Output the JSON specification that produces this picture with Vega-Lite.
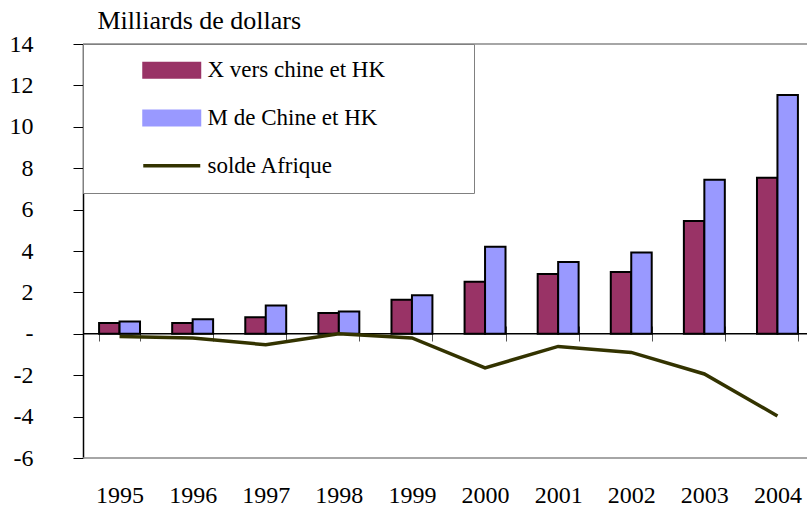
{
  "$schema": "https://vega.github.io/schema/vega-lite/v6.json",
  "width": 724,
  "height": 414,
  "autosize": "none",
  "padding": {"left": 83, "top": 44, "right": 0, "bottom": 48},
  "config": {
    "view": {"stroke": null},
    "font": "Liberation Serif"
  },
  "encoding": {
    "y": {
      "field": "value",
      "type": "quantitative",
      "scale": {"domain": [-6, 14], "nice": false, "zero": false},
      "axis": {
        "title": "Milliards de dollars",
        "titleAngle": 0,
        "titleAlign": "left",
        "titleBaseline": "alphabetic",
        "titleX": 14,
        "titleY": -16,
        "titleFont": "Liberation Serif",
        "titleFontSize": 26,
        "titleFontWeight": "normal",
        "titleColor": "black",
        "values": [-6, -4, -2, 0, 2, 4, 6, 8, 10, 12, 14],
        "labelExpr": "datum.value === 0 ? '-' : '' + datum.value",
        "labelFont": "Liberation Serif",
        "labelFontSize": 24,
        "labelColor": "black",
        "labelPadding": 40,
        "tickSize": 10,
        "tickColor": "black",
        "domainColor": "black",
        "domainWidth": 1.5,
        "grid": false
      }
    }
  },
  "layer": [
    {
      "data": {"values": [{"value": 14}, {"value": -6}]},
      "mark": {"type": "rule", "color": "#888888", "strokeWidth": 1.5}
    },
    {
      "data": {
        "values": [
          {"year": "1995", "serie": "X vers chine et HK", "value": 0.52},
          {"year": "1995", "serie": "M de Chine et HK", "value": 0.60},
          {"year": "1996", "serie": "X vers chine et HK", "value": 0.52},
          {"year": "1996", "serie": "M de Chine et HK", "value": 0.70},
          {"year": "1997", "serie": "X vers chine et HK", "value": 0.80},
          {"year": "1997", "serie": "M de Chine et HK", "value": 1.37},
          {"year": "1998", "serie": "X vers chine et HK", "value": 1.00},
          {"year": "1998", "serie": "M de Chine et HK", "value": 1.08},
          {"year": "1999", "serie": "X vers chine et HK", "value": 1.65},
          {"year": "1999", "serie": "M de Chine et HK", "value": 1.86},
          {"year": "2000", "serie": "X vers chine et HK", "value": 2.52},
          {"year": "2000", "serie": "M de Chine et HK", "value": 4.21},
          {"year": "2001", "serie": "X vers chine et HK", "value": 2.89},
          {"year": "2001", "serie": "M de Chine et HK", "value": 3.47},
          {"year": "2002", "serie": "X vers chine et HK", "value": 2.99},
          {"year": "2002", "serie": "M de Chine et HK", "value": 3.93},
          {"year": "2003", "serie": "X vers chine et HK", "value": 5.45},
          {"year": "2003", "serie": "M de Chine et HK", "value": 7.44},
          {"year": "2004", "serie": "X vers chine et HK", "value": 7.54},
          {"year": "2004", "serie": "M de Chine et HK", "value": 11.54}
        ]
      },
      "mark": {"type": "bar", "stroke": "black", "strokeWidth": 2, "opacity": 1},
      "encoding": {
        "x": {
          "field": "year", "type": "ordinal",
          "scale": {"paddingInner": 0.44, "paddingOuter": 0.22, "range": [0, 731]},
          "axis": {
            "title": null, "orient": "bottom", "offset": -117, "domain": false,
            "tickSize": -15, "tickBand": "extent", "tickColor": "#555555", "tickWidth": 1,
            "labelPadding": 157, "labelFont": "Liberation Serif", "labelFontSize": 24,
            "labelColor": "black", "labelAngle": 0, "labelBaseline": "top"
          }
        },
        "xOffset": {
          "field": "serie", "type": "nominal",
          "sort": ["X vers chine et HK", "M de Chine et HK"],
          "scale": {"paddingInner": 0, "paddingOuter": 0}
        },
        "color": {
          "field": "serie", "type": "nominal",
          "scale": {"domain": ["X vers chine et HK", "M de Chine et HK", "solde Afrique"], "range": ["#993366", "#9999FF", "#333300"]},
          "legend": {
            "orient": "none", "legendX": 0, "legendY": 0, "title": null,
            "fillColor": "white", "strokeColor": "#808080",
            "padding": 14.75, "rowPadding": 23.8, "symbolSize": 812,
            "symbolOffset": 62.5, "labelOffset": 24.25, "labelLimit": 500,
            "labelFont": "Liberation Serif", "labelFontSize": 23, "labelColor": "black",
            "labelExpr": "datum.label + '\u2800\u2800 \u2800\u2800'",
            "encode": {"symbols": {"update": {
              "shape": {"signal": "datum.value === 'solde Afrique' ? 'M-2,0H2' : 'M-2,-0.526H2V0.526H-2Z'"},
              "fill": {"signal": "datum.value === 'solde Afrique' ? 'transparent' : (datum.value === 'X vers chine et HK' ? '#993366' : '#9999FF')"},
              "stroke": {"signal": "datum.value === 'solde Afrique' ? '#333300' : 'black'"},
              "strokeWidth": {"signal": "datum.value === 'solde Afrique' ? 3.5 : 2"},
              "opacity": {"value": 1}
            }}}
          }
        }
      }
    },
    {
      "data": {"values": [{"value": 0}]},
      "mark": {"type": "rule", "color": "black", "strokeWidth": 1.5}
    },
    {
      "data": {
        "values": [
          {"year": "1995", "serie": "solde Afrique", "value": -0.13},
          {"year": "1996", "serie": "solde Afrique", "value": -0.20},
          {"year": "1997", "serie": "solde Afrique", "value": -0.53},
          {"year": "1998", "serie": "solde Afrique", "value": 0.0},
          {"year": "1999", "serie": "solde Afrique", "value": -0.20},
          {"year": "2000", "serie": "solde Afrique", "value": -1.65},
          {"year": "2001", "serie": "solde Afrique", "value": -0.61},
          {"year": "2002", "serie": "solde Afrique", "value": -0.90},
          {"year": "2003", "serie": "solde Afrique", "value": -1.94},
          {"year": "2004", "serie": "solde Afrique", "value": -3.97}
        ]
      },
      "mark": {"type": "line", "strokeWidth": 3.5},
      "encoding": {
        "x": {
          "field": "year", "type": "ordinal",
          "scale": {"paddingInner": 0.44, "paddingOuter": 0.22, "range": [0, 731]},
          "axis": {
            "title": null, "orient": "bottom", "offset": -117, "domain": false,
            "tickSize": -15, "tickBand": "extent", "tickColor": "#555555", "tickWidth": 1,
            "labelPadding": 157, "labelFont": "Liberation Serif", "labelFontSize": 24,
            "labelColor": "black", "labelAngle": 0, "labelBaseline": "top"
          }
        },
        "color": {
          "field": "serie", "type": "nominal",
          "scale": {"domain": ["X vers chine et HK", "M de Chine et HK", "solde Afrique"], "range": ["#993366", "#9999FF", "#333300"]},
          "legend": {
            "orient": "none", "legendX": 0, "legendY": 0, "title": null,
            "fillColor": "white", "strokeColor": "#808080",
            "padding": 14.75, "rowPadding": 23.8, "symbolSize": 812,
            "symbolOffset": 62.5, "labelOffset": 24.25, "labelLimit": 500,
            "labelFont": "Liberation Serif", "labelFontSize": 23, "labelColor": "black",
            "labelExpr": "datum.label + '\u2800\u2800 \u2800\u2800'",
            "encode": {"symbols": {"update": {
              "shape": {"signal": "datum.value === 'solde Afrique' ? 'M-2,0H2' : 'M-2,-0.526H2V0.526H-2Z'"},
              "fill": {"signal": "datum.value === 'solde Afrique' ? 'transparent' : (datum.value === 'X vers chine et HK' ? '#993366' : '#9999FF')"},
              "stroke": {"signal": "datum.value === 'solde Afrique' ? '#333300' : 'black'"},
              "strokeWidth": {"signal": "datum.value === 'solde Afrique' ? 3.5 : 2"},
              "opacity": {"value": 1}
            }}}
          }
        }
      }
    }
  ]
}
